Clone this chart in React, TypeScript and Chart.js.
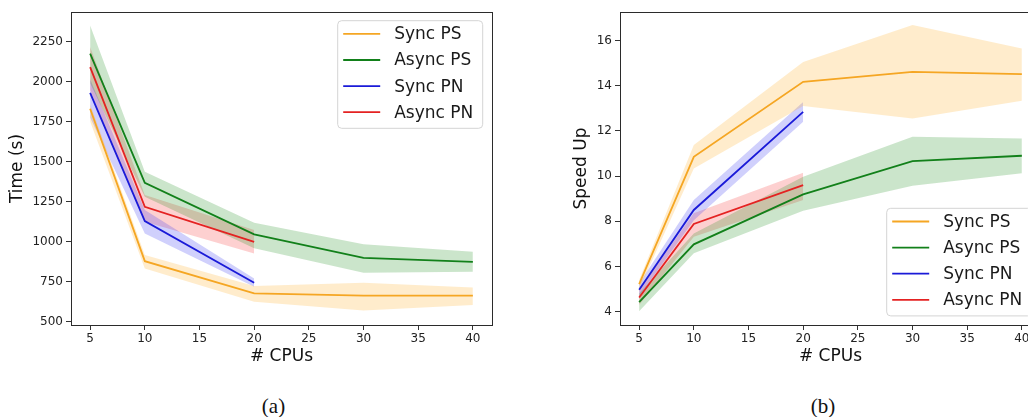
import React, { useEffect, useRef } from "react";
import { Chart, registerables } from "chart.js";

Chart.register(...registerables);

// ---------- data ----------
const seriesNames = ["Sync PS", "Async PS", "Sync PN", "Async PN"];
const seriesColors = ["#f5a623", "#12801a", "#1a1ad8", "#e42222"];
const seriesFills = [
  "rgba(255,175,40,0.24)",
  "rgba(20,135,20,0.22)",
  "rgba(40,40,240,0.22)",
  "rgba(245,40,40,0.22)",
];

const cpusPS = [5, 10, 20, 30, 40];
const cpusPN = [5, 10, 20];

const xTicks = [5, 10, 15, 20, 25, 30, 35, 40];
const timeTicks = [500, 750, 1000, 1250, 1500, 1750, 2000, 2250];
const speedTicks = [4, 6, 8, 10, 12, 14, 16];

// Time (s)
const timeSyncPS = [1830, 878, 677, 662, 662];
const timeSyncPSHi = [1860, 916, 723, 743, 714];
const timeSyncPSLo = [1750, 832, 625, 569, 604];

const timeAsyncPS = [2175, 1367, 1045, 899, 874];
const timeAsyncPSHi = [2350, 1436, 1118, 983, 937];
const timeAsyncPSLo = [1990, 1280, 958, 806, 812];

const timeSyncPN = [1930, 1128, 743];
const timeSyncPNHi = [2015, 1197, 770];
const timeSyncPNLo = [1775, 1051, 718];

const timeAsyncPN = [2091, 1218, 999];
const timeAsyncPNHi = [2216, 1291, 1072];
const timeAsyncPNLo = [1946, 1124, 926];

// Speed Up
const speedSyncPS = [5.22, 10.85, 14.17, 14.61, 14.51];
const speedSyncPSHi = [5.4, 11.37, 15.05, 16.68, 15.64];
const speedSyncPSLo = [5.0, 10.34, 13.1, 12.55, 13.33];

const speedAsyncPS = [4.42, 6.98, 9.19, 10.66, 10.9];
const speedAsyncPSHi = [4.8, 7.46, 9.97, 11.74, 11.66];
const speedAsyncPSLo = [4.02, 6.58, 8.47, 9.57, 10.12];

const speedSyncPN = [4.97, 8.5, 12.84];
const speedSyncPNHi = [5.25, 8.94, 13.28];
const speedSyncPNLo = [4.68, 8.05, 12.4];

const speedAsyncPN = [4.63, 7.88, 9.6];
const speedAsyncPNHi = [4.96, 8.35, 10.15];
const speedAsyncPNLo = [4.29, 7.32, 8.94];

// ---------- helpers ----------
const FONT = "'DejaVu Sans', sans-serif";

function pts(xs: number[], ys: number[]) {
  return xs.map((x, i) => ({ x, y: ys[i] }));
}

type Series = { xs: number[]; mean: number[]; hi: number[]; lo: number[] };

function buildDatasets(series: Series[]) {
  const ds: any[] = [];
  series.forEach((s, i) => {
    ds.push({
      label: "hi" + i,
      data: pts(s.xs, s.hi),
      borderWidth: 0,
      pointRadius: 0,
      backgroundColor: seriesFills[i],
      fill: "+1",
      order: 10 + i,
    });
    ds.push({
      label: "lo" + i,
      data: pts(s.xs, s.lo),
      borderWidth: 0,
      pointRadius: 0,
      fill: false,
      order: 10 + i,
    });
    ds.push({
      label: seriesNames[i],
      data: pts(s.xs, s.mean),
      borderColor: seriesColors[i],
      borderWidth: 1.8,
      pointRadius: 0,
      fill: false,
      order: 1 + i,
    });
  });
  return ds;
}

const framePlugin = {
  id: "frame",
  afterDatasetsDraw(chart: any) {
    const { ctx, chartArea } = chart;
    ctx.save();
    ctx.strokeStyle = "#2b2b2b";
    ctx.lineWidth = 1;
    ctx.strokeRect(
      Math.round(chartArea.left) + 0.5,
      Math.round(chartArea.top) + 0.5,
      Math.round(chartArea.right - chartArea.left),
      Math.round(chartArea.bottom - chartArea.top)
    );
    ctx.restore();
  },
};

function makeLegendPlugin(boxLeft: number, boxTop: number) {
  return {
    id: "boxLegend",
    afterDraw(chart: any) {
      const ctx = chart.ctx;
      const w = 145,
        h = 107.6,
        r = 4;
      ctx.save();
      ctx.beginPath();
      ctx.moveTo(boxLeft + r, boxTop);
      ctx.arcTo(boxLeft + w, boxTop, boxLeft + w, boxTop + h, r);
      ctx.arcTo(boxLeft + w, boxTop + h, boxLeft, boxTop + h, r);
      ctx.arcTo(boxLeft, boxTop + h, boxLeft, boxTop, r);
      ctx.arcTo(boxLeft, boxTop, boxLeft + w, boxTop, r);
      ctx.closePath();
      ctx.fillStyle = "rgba(255,255,255,0.85)";
      ctx.fill();
      ctx.strokeStyle = "#d4d4d4";
      ctx.lineWidth = 1;
      ctx.stroke();
      ctx.font = "17px " + FONT;
      ctx.textBaseline = "middle";
      ctx.textAlign = "left";
      seriesNames.forEach((name, i) => {
        const y = boxTop + 13.2 + i * 26.1;
        ctx.strokeStyle = seriesColors[i];
        ctx.lineWidth = 1.8;
        ctx.beginPath();
        ctx.moveTo(boxLeft + 5.5, y);
        ctx.lineTo(boxLeft + 42.5, y);
        ctx.stroke();
        ctx.fillStyle = "#1a1a1a";
        ctx.fillText(name, boxLeft + 56.5, y + 1);
      });
      ctx.restore();
    },
  };
}

function makeConfig(opts: {
  datasets: any[];
  yMin: number;
  yMax: number;
  yTicks: number[];
  yTitle: string;
  yAxisWidth: number;
  yTitlePad: number;
  padRight: number;
  legend: any;
}) {
  return {
    type: "line" as const,
    data: { datasets: opts.datasets },
    plugins: [framePlugin, opts.legend],
    options: {
      animation: false,
      responsive: false,
      maintainAspectRatio: false,
      layout: { padding: { left: 0, top: 12, right: opts.padRight, bottom: 0 } },
      plugins: {
        legend: { display: false },
        tooltip: { enabled: false },
        filler: { propagate: false },
      },
      elements: { line: { tension: 0 } },
      scales: {
        x: {
          type: "linear",
          min: 3.25,
          max: 41.75,
          afterBuildTicks: (axis: any) => {
            axis.ticks = xTicks.map((v) => ({ value: v }));
          },
          afterFit: (axis: any) => {
            axis.height = 55;
          },
          grid: {
            drawOnChartArea: false,
            drawTicks: true,
            tickLength: 5,
            color: "#333",
          },
          border: { display: false },
          ticks: {
            color: "#222",
            font: { family: FONT, size: 12 },
            padding: 2,
            maxRotation: 0,
            autoSkip: false,
            callback: (v: any) => String(v),
          },
          title: {
            display: true,
            text: "# CPUs",
            color: "#111",
            font: { family: FONT, size: 17 },
            padding: { top: 0, bottom: 13 },
          },
        },
        y: {
          type: "linear",
          min: opts.yMin,
          max: opts.yMax,
          afterBuildTicks: (axis: any) => {
            axis.ticks = opts.yTicks.map((v) => ({ value: v }));
          },
          afterFit: (axis: any) => {
            axis.width = opts.yAxisWidth;
          },
          grid: {
            drawOnChartArea: false,
            drawTicks: true,
            tickLength: 5,
            color: "#333",
          },
          border: { display: false },
          ticks: {
            color: "#222",
            font: { family: FONT, size: 12 },
            padding: 3,
            autoSkip: false,
            callback: (v: any) => String(v),
          },
          title: {
            display: true,
            text: opts.yTitle,
            color: "#111",
            font: { family: FONT, size: 17 },
            padding: { top: opts.yTitlePad, bottom: 0 },
          },
        },
      },
    },
  };
}

function ChartCanvas({ config, width, height, left }: any) {
  const ref = useRef<HTMLCanvasElement | null>(null);
  useEffect(() => {
    if (!ref.current) return;
    const chart = new Chart(ref.current, config as any);
    return () => chart.destroy();
  }, []);
  return (
    <canvas
      ref={ref}
      width={width}
      height={height}
      style={{ position: "absolute", left, top: 0, width, height }}
    />
  );
}

export default function App() {
  const timeCfg = makeConfig({
    datasets: buildDatasets([
      { xs: cpusPS, mean: timeSyncPS, hi: timeSyncPSHi, lo: timeSyncPSLo },
      { xs: cpusPS, mean: timeAsyncPS, hi: timeAsyncPSHi, lo: timeAsyncPSLo },
      { xs: cpusPN, mean: timeSyncPN, hi: timeSyncPNHi, lo: timeSyncPNLo },
      { xs: cpusPN, mean: timeAsyncPN, hi: timeAsyncPNHi, lo: timeAsyncPNLo },
    ]),
    yMin: 479,
    yMax: 2435,
    yTicks: timeTicks,
    yTitle: "Time (s)",
    yAxisWidth: 71,
    yTitlePad: 7,
    padRight: 28,
    legend: makeLegendPlugin(337.7, 20.7),
  });
  const speedCfg = makeConfig({
    datasets: buildDatasets([
      { xs: cpusPS, mean: speedSyncPS, hi: speedSyncPSHi, lo: speedSyncPSLo },
      { xs: cpusPS, mean: speedAsyncPS, hi: speedAsyncPSHi, lo: speedAsyncPSLo },
      { xs: cpusPN, mean: speedSyncPN, hi: speedSyncPNHi, lo: speedSyncPNLo },
      { xs: cpusPN, mean: speedAsyncPN, hi: speedAsyncPNHi, lo: speedAsyncPNLo },
    ]),
    yMin: 3.41,
    yMax: 17.26,
    yTicks: speedTicks,
    yTitle: "Speed Up",
    yAxisWidth: 100,
    yTitlePad: 51.5,
    padRight: 29,
    legend: makeLegendPlugin(366.7, 208.3),
  });

  const captionStyle: React.CSSProperties = {
    position: "absolute",
    top: 394,
    fontFamily: "'Liberation Serif', 'DejaVu Serif', serif",
    fontSize: 21,
    lineHeight: "24px",
    color: "#111",
    transform: "translateX(-50%)",
    whiteSpace: "nowrap",
  };

  return (
    <div
      style={{
        position: "absolute",
        left: 0,
        top: 0,
        width: 1028,
        height: 417,
        overflow: "hidden",
        background: "#fff",
      }}
    >
      <ChartCanvas config={timeCfg} width={520} height={380} left={0} />
      <ChartCanvas config={speedCfg} width={550} height={380} left={520} />
      <div style={{ ...captionStyle, left: 273.5 }}>(a)</div>
      <div style={{ ...captionStyle, left: 823 }}>(b)</div>
    </div>
  );
}
